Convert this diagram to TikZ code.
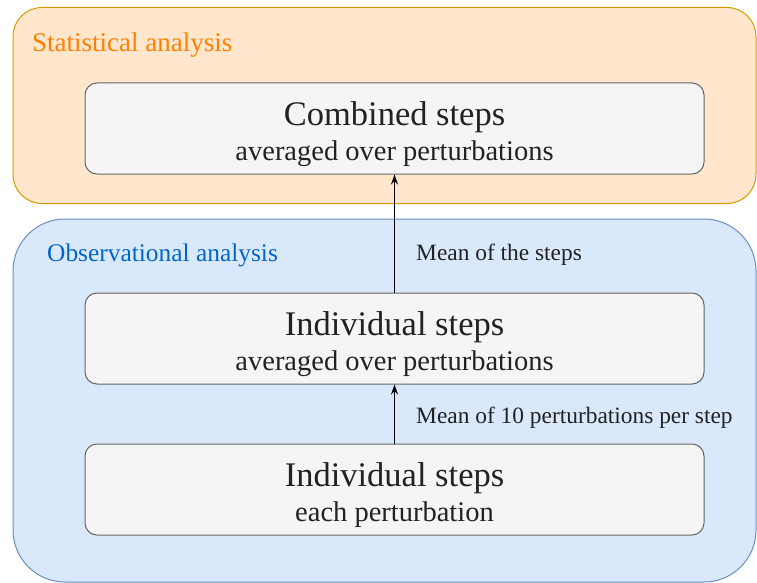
\documentclass[tikz,border=0pt]{standalone}
\usepackage{fontspec}
\setmainfont{Liberation Serif}
\usetikzlibrary{arrows.meta}
\definecolor{orfill}{HTML}{FFE6CC}
\definecolor{ordraw}{HTML}{D79B00}
\definecolor{ortext}{HTML}{FF8000}
\definecolor{blfill}{HTML}{DAE8FC}
\definecolor{bldraw}{HTML}{6C8EBF}
\definecolor{bltext}{HTML}{0066CC}
\definecolor{boxfill}{HTML}{F5F5F5}
\definecolor{boxdraw}{HTML}{666666}
\definecolor{boxtext}{HTML}{222222}
\tikzset{
  groupbox/.style={draw, line width=1pt, inner sep=0pt},
  stepbox/.style={draw=boxdraw, fill=boxfill, line width=1pt, rounded corners=12pt,
    minimum width=619pt, minimum height=91pt, inner sep=0pt},
  titletext/.style={anchor=base, inner sep=0pt, text=boxtext, font=\fontsize{34.5}{40}\selectfont},
  subtext/.style={anchor=base, inner sep=0pt, text=boxtext, font=\fontsize{28.5}{33}\selectfont},
  grouptext/.style={anchor=base west, inner sep=0pt},
  edgetext/.style={anchor=base west, inner sep=0pt, text=boxtext, font=\fontsize{23.4}{28}\selectfont},
  arr/.style={-{Stealth[length=10pt,width=7pt]}, line width=1.5pt, black}
}
\begin{document}
\begin{tikzpicture}[x=1pt,y=-1pt]
\useasboundingbox (0,0) rectangle (757,583);
% group containers
\node[groupbox, draw=ordraw, fill=orfill, rounded corners=29pt,
  minimum width=743pt, minimum height=196pt] (stat) at (384.5,105.5) {};
\node[groupbox, draw=bldraw, fill=blfill, rounded corners=52pt,
  minimum width=743pt, minimum height=363pt] (obs) at (384.5,400.5) {};
\node[grouptext, text=ortext, font=\fontsize{27}{31}\selectfont] (statlbl) at (32,52) {Statistical analysis};
\node[grouptext, text=bltext, font=\fontsize{25.4}{30}\selectfont] (obslbl) at (47,261) {Observational analysis};
% step boxes
\node[stepbox] (comb) at (394.5,128.5) {};
\node[stepbox] (mid) at (394.5,338.5) {};
\node[stepbox] (bot) at (394.5,489.5) {};
\node[titletext, yshift=-43pt] (combt) at (comb.north) {Combined steps};
\node[subtext, yshift=-78pt] (combs) at (comb.north) {averaged over perturbations};
\node[titletext, yshift=-43pt] (midt) at (mid.north) {Individual steps};
\node[subtext, yshift=-78pt] (mids) at (mid.north) {averaged over perturbations};
\node[titletext, yshift=-43pt] (bott) at (bot.north) {Individual steps};
\node[subtext, yshift=-78pt] (bots) at (bot.north) {each perturbation};
% connectors
\draw[arr] (mid.north) -- (comb.south);
\draw[arr] (bot.north) -- (mid.south);
\node[edgetext] (l1) at (416,260) {Mean of the steps};
\node[edgetext] (l2) at (416,423) {Mean of 10 perturbations per step};
\end{tikzpicture}
\end{document}
